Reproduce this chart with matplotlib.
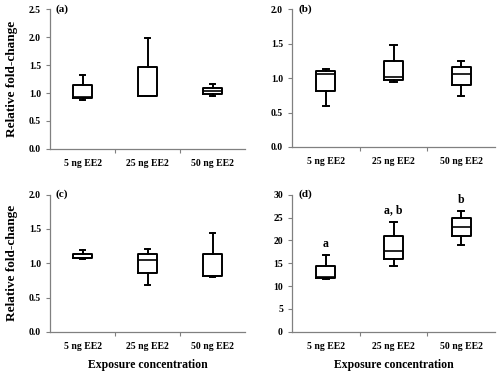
import matplotlib
matplotlib.use("Agg")
import matplotlib.pyplot as plt
import matplotlib.ticker as ticker

plt.rcParams['font.family'] = ['Liberation Serif', 'DejaVu Serif']
plt.rcParams['font.weight'] = 'bold'

groups = ['5 ng EE2', '25 ng EE2', '50 ng EE2']

# box stats per panel: whislo, q1, med, q3, whishi
a_stats = [[0.88, 0.91, 0.93, 1.14, 1.33],
           [0.94, 0.95, 0.95, 1.47, 1.98],
           [0.94, 0.99, 1.03, 1.09, 1.16]]
b_stats = [[0.59, 0.82, 1.06, 1.10, 1.14],
           [0.95, 0.98, 1.01, 1.25, 1.48],
           [0.74, 0.90, 1.06, 1.16, 1.25]]
c_stats = [[1.06, 1.07, 1.08, 1.14, 1.20],
           [0.68, 0.86, 1.05, 1.13, 1.21],
           [0.80, 0.81, 0.81, 1.13, 1.44]]
d_stats = [[11.6, 11.8, 11.9, 14.3, 16.7],
           [14.3, 16.0, 17.7, 21.0, 24.1],
           [19.0, 21.0, 23.0, 24.8, 26.5]]
d_letters = ['a', 'a, b', 'b']
d_letter_y = [19.3, 26.6, 28.8]

panels = [
    ('(a)', a_stats, 2.5, 0.5, '%.1f', [0.10, 0.603, 0.39, 0.372]),
    ('(b)', b_stats, 2.0, 0.5, '%.1f', [0.584, 0.608, 0.406, 0.367]),
    ('(c)', c_stats, 2.0, 0.5, '%.1f', [0.10, 0.115, 0.39, 0.366]),
    ('(d)', d_stats, 30, 5, '%d', [0.584, 0.115, 0.406, 0.366]),
]

fig = plt.figure(figsize=(5, 3.75), dpi=100)

for i, (tag, stats, ymax, step, fmt, pos) in enumerate(panels):
    ax = fig.add_axes(pos)
    bxp = [dict(whislo=s[0], q1=s[1], med=s[2], q3=s[3], whishi=s[4], fliers=[])
           for s in stats]
    ax.bxp(bxp, positions=[1, 2, 3], widths=0.28, showfliers=False,
           boxprops=dict(color='black', linewidth=1.4),
           whiskerprops=dict(color='black', linewidth=1.4),
           capprops=dict(color='black', linewidth=1.4),
           medianprops=dict(color='black', linewidth=1.2),
           capwidths=0.09)
    ax.set_xlim(0.5, 3.5)
    ax.set_ylim(0, ymax)
    ax.yaxis.set_major_locator(ticker.MultipleLocator(step))
    ax.yaxis.set_major_formatter(ticker.FormatStrFormatter(fmt))
    ax.set_xticks([1, 2, 3])
    ax.set_xticklabels(groups)
    ax.set_xticks([1.5, 2.5], minor=True)
    ax.tick_params(axis='x', which='major', length=0, pad=7, labelsize=7)
    ax.tick_params(axis='x', which='minor', length=3, width=0.8, color='gray')
    ax.tick_params(axis='y', length=3, width=0.8, color='gray', labelsize=7)
    for sp in ['top', 'right']:
        ax.spines[sp].set_visible(False)
    for sp in ['left', 'bottom']:
        ax.spines[sp].set_color('gray')
        ax.spines[sp].set_linewidth(0.9)
    ax.text(0.03, 1.0, tag, transform=ax.transAxes, fontsize=8,
            fontweight='bold', va='center', ha='left')
    if i in (0, 2):
        ax.set_ylabel('Relative fold-change', fontsize=9.5, fontweight='bold', labelpad=8)
    if i in (2, 3):
        ax.set_xlabel('Exposure concentration', fontsize=8.5, fontweight='bold', labelpad=6)
    if tag == '(d)':
        for x, t, y in zip([1, 2, 3], d_letters, d_letter_y):
            ax.text(x, y, t, ha='center', va='center', fontsize=8.5, fontweight='bold')

fig.savefig('out.png', dpi=100)
